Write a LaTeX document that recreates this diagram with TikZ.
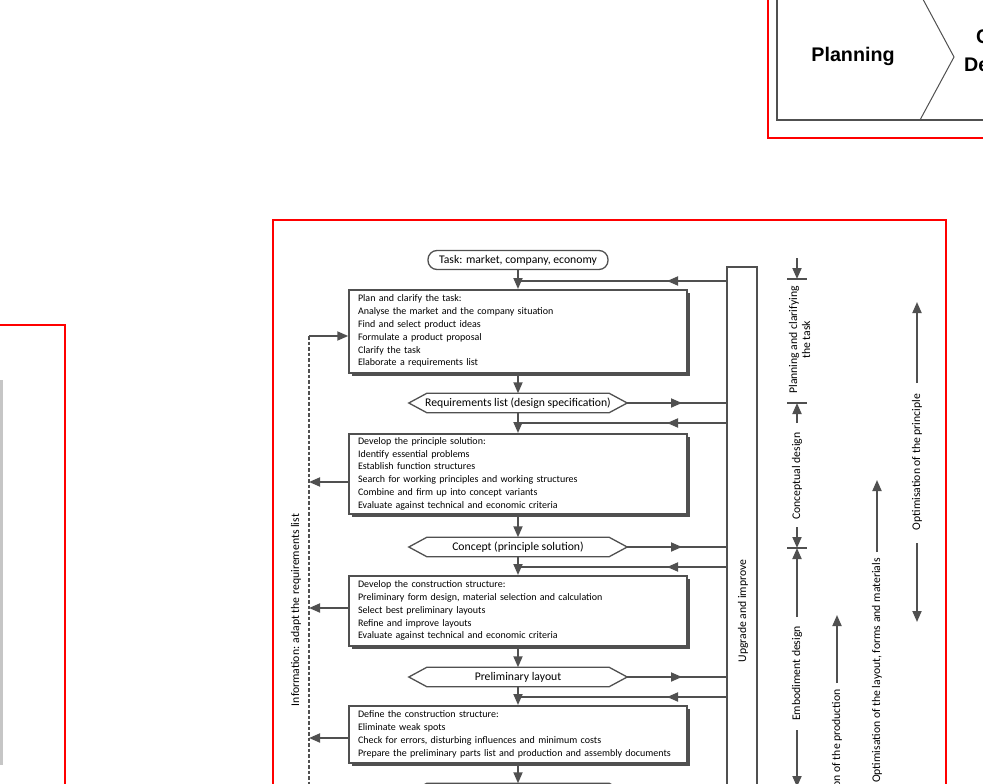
\documentclass[tikz,border=0pt]{standalone}
\usepackage{fontspec}
\setmainfont{Carlito}
\newfontfamily\arialf{Liberation Sans}
\usetikzlibrary{arrows.meta,shadows}
\definecolor{lc}{RGB}{80,80,80}
\definecolor{fr}{RGB}{255,0,0}
\newcommand\hexshape[1]{\draw[hexline] (#1.west) -- ([xshift=18pt]#1.north west) -- ([xshift=-18pt]#1.north east) -- (#1.east) -- ([xshift=-18pt]#1.south east) -- ([xshift=18pt]#1.south west) -- cycle;}
\begin{document}
\begin{tikzpicture}[x=1pt,y=-1pt,
  ln/.style={draw=lc, line width=1.8pt},
  flow/.style={ln, -{Triangle[length=11pt,width=9pt]}},
  stepbox/.style={draw=lc, line width=1.5pt, fill=white, text width=320pt, inner xsep=9pt, inner ysep=0pt, align=left, anchor=north, font=\fontsize{10.0}{12.8}\selectfont, drop shadow={shadow xshift=3pt, shadow yshift=-3pt, fill=lc, opacity=1}},
  hexnode/.style={minimum width=218pt, minimum height=19pt, inner sep=0pt, font=\fontsize{11.7}{13}\selectfont},
  hexline/.style={draw=lc, line width=1.3pt},
  lab/.style={rotate=90, inner sep=0pt, font=\fontsize{11.7}{13}\selectfont},
  frame/.style={draw=fr, line width=1.5pt},
  tick/.style={ln, line width=1.6pt},
]
\useasboundingbox (0,0) rectangle (983,784);
\begin{scope}
\clip (0,0) rectangle (983,784);
% top-right frame
\draw[frame] (768,-10) -- (768,138) -- (1000,138);
\draw[lc, line width=1.5pt] (777,-10) -- (777,120) -- (1000,120);
\draw[lc, line width=1pt] (918,-10) -- (954,57) -- (920,120);
\node[font=\arialf\bfseries\fontsize{19.7}{22}\selectfont, inner sep=0pt] (plan) at (853,56) {Planning};
\node[font=\arialf\bfseries\fontsize{19.7}{22}\selectfont, inner sep=0pt, anchor=west] (cd1) at (976,38) {Conceptual};
\node[font=\arialf\bfseries\fontsize{19.7}{22}\selectfont, inner sep=0pt, anchor=west] (cd2) at (964,66) {Design};
% left frame
\draw[frame] (-10,325) -- (65,325) -- (65,800);
\fill[gray!45] (0,380) rectangle (3,765);
% main frame
\draw[frame] (273,800) -- (273,220) -- (946,220) -- (946,800);

% flow nodes
\node[draw=lc, line width=1.3pt, rounded corners=9pt, minimum width=180pt, minimum height=19pt, inner sep=0pt, font=\fontsize{11.7}{13}\selectfont] (task) at (518,260) {Task: market, company, economy};
\node[stepbox, minimum height=83pt] (b1) at (518,289) {Plan and clarify the task:\\Analyse the market and the company situation\\Find and select product ideas\\Formulate a product proposal\\Clarify the task\\Elaborate a requirements list};
\node[hexnode] (req) at (518,403) {Requirements list (design specification)};
\hexshape{req}
\node[stepbox, minimum height=80pt] (b2) at (518,433) {Develop the principle solution:\\Identify essential problems\\Establish function structures\\Search for working principles and working structures\\Combine and firm up into concept variants\\Evaluate against technical and economic criteria};
\node[hexnode] (con) at (518,547) {Concept (principle solution)};
\hexshape{con}
\node[stepbox, minimum height=70pt] (b3) at (518,575) {Develop the construction structure:\\Preliminary form design, material selection and calculation\\Select best preliminary layouts\\Refine and improve layouts\\Evaluate against technical and economic criteria};
\node[hexnode] (pre) at (518,677) {Preliminary layout};
\hexshape{pre}
\node[stepbox, minimum height=57pt] (b4) at (518,705) {Define the construction structure:\\Eliminate weak spots\\Check for errors, disturbing influences and minimum costs\\Prepare the preliminary parts list and production and assembly documents};
\node[hexnode] (fin) at (518,793) {};
\hexshape{fin}

% upgrade bar
\node[draw=lc, line width=1.5pt, minimum width=30pt, minimum height=560pt, anchor=north, inner sep=0pt] (bar) at (742,266) {};
\node[lab] (uai) at (743,611) {Upgrade and improve};

% vertical flow
\draw[flow] (task) -- (b1);
\draw[flow] (b1) -- (req);
\draw[flow] (req) -- (b2);
\draw[flow] (b2) -- (con);
\draw[flow] (con) -- (b3);
\draw[flow] (b3) -- (pre);
\draw[flow] (pre) -- (b4);
\draw[flow] (b4) -- (fin);

% tip positions
\coordinate (tl) at (667,0);
\coordinate (tr) at (682,0);
% feedback from bar
\foreach \y [count=\i] in {281,423,567,697}{
  \coordinate (fb\i) at (518,\y);
  \draw[ln] (bar.west |- fb\i) -- (fb\i);
  \draw[flow] (bar.west |- fb\i) -- (tl |- fb\i);
}
% results to bar
\foreach \n in {req,con,pre}{
  \draw[ln] (\n.east) -- (\n.east -| bar.west);
  \draw[flow] (\n.east) -- (\n.east -| tr);
}

% information line
\coordinate (dtop) at (309,336);
\draw[lc, line width=1.6pt, dash pattern=on 3.5pt off 2pt] (dtop) -- (309,800);
\draw[flow] (dtop) -- (b1.west |- dtop);
\coordinate (i2) at (309,482);
\coordinate (i3) at (309,608);
\coordinate (i4) at (309,738);
\draw[flow] (b2.west |- i2) -- (i2);
\draw[flow] (b3.west |- i3) -- (i3);
\draw[flow] (b4.west |- i4) -- (i4);
\node[lab] (info) at (296,610) {Information: adapt the requirements list};

% phases
\coordinate (p1) at (797,279);
\coordinate (p2) at (797,403);
\coordinate (p3) at (797,548);
\draw[flow] (797,258) -- (p1);
\draw[tick] ([xshift=-10pt]p1) -- ([xshift=10pt]p1);
\node[lab, align=center] (ph1) at (799.5,340) {Planning and clarifying\\the task};
\draw[tick] ([xshift=-10pt]p2) -- ([xshift=10pt]p2);
\draw[flow] (797,423) -- (p2);
\node[lab] (ph2) at (797,476) {Conceptual design};
\draw[flow] (797,527) -- (p3);
\draw[tick] ([xshift=-10pt]p3) -- ([xshift=10pt]p3);
\draw[flow] (797,617) -- (p3);
\node[lab] (ph3) at (797,673.5) {Embodiment design};
\draw[flow] (797,730) -- (797,787);

% optimisation arrows
\draw[flow] (837,683) -- (837,615);
\node[lab, anchor=east] (op1) at (837,689) {Optimisation of the production};
\draw[flow] (877,552) -- (877,480);
\node[lab, anchor=east] (op2) at (877,558) {Optimisation of the layout, forms and materials};
\draw[flow] (917,383) -- (917,302);
\node[lab] (op3) at (917,462) {Optimisation of the principle};
\draw[flow] (917,543) -- (917,622);
\end{scope}
\end{tikzpicture}
\end{document}
